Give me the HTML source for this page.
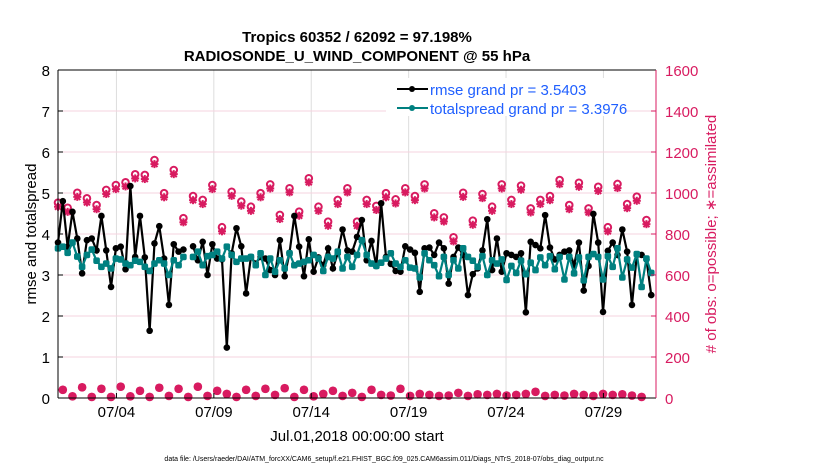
<!DOCTYPE html>
<html><head><meta charset="utf-8">
<style>
body{margin:0;background:#fff;}
svg{display:block;font-family:"Liberation Sans",Arial,sans-serif;}
</style></head>
<body>
<svg id="chart" width="830" height="470">
<g id="grid"></g><g id="marks"></g><g id="axes"></g>
<text x="357" y="42" text-anchor="middle" font-size="15" font-weight="bold">Tropics 60352 / 62092 = 97.198%</text>
<text x="357" y="61" text-anchor="middle" font-size="15" font-weight="bold">RADIOSONDE_U_WIND_COMPONENT @ 55 hPa</text>
<text x="357" y="441" text-anchor="middle" font-size="15">Jul.01,2018 00:00:00 start</text>
<text x="36" y="234" text-anchor="middle" font-size="15" transform="rotate(-90 36 234)">rmse and totalspread</text>
<text x="716" y="234" text-anchor="middle" font-size="15" fill="#d81b60" transform="rotate(-90 716 234)"># of obs: o=possible; ∗=assimilated</text>
<text x="384" y="461" text-anchor="middle" font-size="7">data file: /Users/raeder/DAI/ATM_forcXX/CAM6_setup/f.e21.FHIST_BGC.f09_025.CAM6assim.011/Diags_NTrS_2018-07/obs_diag_output.nc</text>
<g>
<rect x="386" y="78" width="238" height="38" fill="#fff"/>
<line x1="397" y1="89" x2="428" y2="89" stroke="#000" stroke-width="2"/><circle cx="412" cy="89" r="3" fill="#000"/>
<text x="430" y="95" font-size="15" fill="#1f5fff">rmse grand pr = 3.5403</text>
<line x1="397" y1="108" x2="428" y2="108" stroke="#008080" stroke-width="2"/><circle cx="412" cy="108" r="3" fill="#008080"/>
<text x="430" y="114" font-size="15" fill="#1f5fff">totalspread grand pr = 3.3976</text>
</g>
</svg>
<script>
const rmse=[3.79,4.8,3.69,4.54,3.89,3.04,3.85,3.89,3.6,4.44,3.6,2.71,3.65,3.69,3.14,5.17,3.44,4.44,3.43,1.64,3.77,4.19,3.4,2.27,3.75,3.57,3.62,null,3.7,3.36,3.81,3.0,
3.75,3.4,3.38,1.23,3.53,4.14,3.7,2.55,3.44,3.28,3.44,3.4,3.12,3.0,3.85,2.97,3.54,4.44,3.69,2.97,3.87,3.08,3.43,3.24,3.65,3.16,3.53,4.11,3.6,3.57,3.93,
4.34,3.36,3.83,3.22,4.75,3.44,3.27,3.1,3.08,3.7,3.62,3.54,2.59,3.65,3.67,3.49,3.79,3.65,2.79,3.44,3.67,3.49,2.51,3.02,3.16,3.6,4.36,3.12,3.89,3.08,3.53,
3.49,3.44,3.53,2.09,3.81,3.73,3.65,4.46,3.67,3.38,3.49,3.57,3.6,3.24,3.79,2.62,3.22,4.49,3.79,2.1,3.59,3.79,3.49,4.11,3.57,2.27,3.49,3.49,3.38,2.51];
const spread=[3.65,3.69,3.54,3.79,3.45,3.2,3.49,3.62,3.35,3.2,3.28,3.16,3.4,3.38,3.28,3.24,3.35,3.32,3.2,3.1,3.28,3.36,3.28,3.0,3.36,3.24,3.44,null,3.44,3.57,3.24,3.46,
3.49,3.57,3.4,3.69,3.49,3.32,3.4,3.4,3.44,3.24,3.53,3.0,3.4,3.08,3.36,3.16,3.53,3.24,3.28,3.32,3.36,3.49,3.4,3.1,3.44,3.4,3.57,3.16,3.44,3.2,3.49,
3.85,3.49,3.28,3.22,3.3,3.4,3.53,3.28,3.2,3.36,3.18,3.16,2.94,3.53,3.36,3.24,2.97,3.44,3.0,3.36,3.16,3.65,3.44,3.35,3.2,3.46,3.0,3.36,3.28,3.38,2.88,
3.22,3.05,3.35,3.02,3.3,3.12,3.43,3.24,3.46,3.14,3.44,2.89,3.44,3.04,3.43,2.87,3.44,3.51,3.44,2.89,3.46,3.2,3.65,2.94,3.38,3.18,3.51,2.71,3.4,3.05];
const possMain=[953,928,1001,974,941,1015,1039,1052,1091,1088,1161,999,1112,877,985,966,
1039,833,1006,958,933,999,1042,893,1023,909,1072,933,860,966,1023,860,
966,937,999,969,1023,985,1042,901,881,784,1001,865,995,933,1042,
966,1036,925,966,985,1063,941,1050,925,1030,833,1044,946,982,868];
const assimMain=[933,908,981,954,921,995,1019,1032,1071,1068,1141,979,1092,857,965,946,
1019,813,986,938,913,979,1022,873,1003,889,1052,913,840,946,1003,840,
946,917,979,949,1003,965,1022,881,861,764,981,845,975,913,1022,
946,1016,905,946,965,1043,921,1030,905,1010,813,1024,926,962,848];
const possMinor=[40,8,52,5,45,5,55,8,35,5,50,10,45,5,55,10,35,20,5,40,10,45,15,48,5,40,8,20,35,10,
25,5,40,15,12,45,10,20,15,10,12,25,10,18,15,20,12,15,20,30,10,15,12,20,15,10,20,15,18,12,5];
const xTicks=["07/04","07/09","07/14","07/19","07/24","07/29"];
const xTickDays=[3,8,13,18,23,28];
const yTicks=[0,1,2,3,4,5,6,7,8];
const rTicks=[0,200,400,600,800,1000,1200,1400,1600];

const L=58,R=656,T=70,B=398,NS="http://www.w3.org/2000/svg";
const STEP=0.2476;
const xs=d=>L+d*19.48;
const yL=v=>B-(v/8)*(B-T);
const yR=v=>B-(v/1600)*(B-T);
const PINK="#d81b60";
function mk(tag,attrs,parent){const e=document.createElementNS(NS,tag);for(const k in attrs)e.setAttribute(k,attrs[k]);parent.appendChild(e);return e;}
const grid=document.getElementById('grid'),marks=document.getElementById('marks'),axes=document.getElementById('axes');
xTickDays.forEach((d,i)=>{
 const g=mk('line',{x1:xs(d),x2:xs(d),y1:T,y2:B,stroke:'#ddd','stroke-width':1},grid);
 
 
 const t=mk('text',{x:xs(d),y:417,'text-anchor':'middle','font-size':15},axes);t.textContent=xTicks[i];
 
 
 mk('line',{x1:xs(d),x2:xs(d),y1:B,y2:B-5,stroke:'#000'},axes);
});
rTicks.forEach(v=>{
 const g=mk('line',{x1:L,x2:R,y1:yR(v),y2:yR(v),stroke:'#f6d3df','stroke-width':1},grid);
 
 
 const t=mk('text',{x:R+9,y:yR(v)+6,'font-size':15,fill:PINK},axes);t.textContent=v;
 
 
 mk('line',{x1:R,x2:R-5,y1:yR(v),y2:yR(v),stroke:PINK},axes);
});
yTicks.forEach(v=>{
 const t=mk('text',{x:L-8,y:yL(v)+6,'text-anchor':'end','font-size':15},axes);t.textContent=v;
 
 
 mk('line',{x1:L,x2:L+5,y1:yL(v),y2:yL(v),stroke:'#000'},axes);
});
mk('line',{x1:L,x2:L,y1:T,y2:B,stroke:'#000'},axes);
mk('line',{x1:L,x2:R,y1:T,y2:T,stroke:'#000'},axes);
mk('line',{x1:L,x2:R,y1:B,y2:B,stroke:'#000'},axes);
mk('line',{x1:R,x2:R,y1:T,y2:B,stroke:PINK},axes);

function star(x,y,name){
 const g=mk('g',{stroke:PINK,'stroke-width':2},marks);
 
 
 mk('line',{x1:x-4,x2:x+4,y1:y,y2:y},g);mk('line',{x1:x,x2:x,y1:y-4,y2:y+4},g);
 mk('line',{x1:x-3,x2:x+3,y1:y-3,y2:y+3},g);mk('line',{x1:x-3,x2:x+3,y1:y+3,y2:y-3},g);
}
function ring(x,y,name){
 const c=mk('circle',{cx:x,cy:y,r:3.3,fill:'none',stroke:PINK,'stroke-width':2},marks);
 
 
}
possMain.forEach((v,i)=>{const x=xs(i*2*STEP);star(x,yR(assimMain[i]),'assimilated-obs');ring(x,yR(v),'possible-obs');});
possMinor.forEach((v,i)=>{const x=xs((i*2+1)*STEP);star(x,yR(v),'assimilated-obs');ring(x,yR(v),'possible-obs');});

function series(arr,color,name,sq){
 let seg=[];const segs=[];
 arr.forEach((v,i)=>{if(v===null){if(seg.length)segs.push(seg);seg=[];}else seg.push(xs(i*STEP)+','+yL(v));});
 if(seg.length)segs.push(seg);
 segs.forEach(s=>{
  const p=mk('polyline',{points:s.join(' '),fill:'none',stroke:color,'stroke-width':2.2},marks);
  
  
 });
 arr.forEach((v,i)=>{
  if(v===null)return;
  const x=xs(i*STEP),y=yL(v);
  const m=sq?mk('rect',{x:x-3.3,y:y-3.3,width:6.6,height:6.6,rx:2,fill:color},marks):mk('circle',{cx:x,cy:y,r:3.3,fill:color},marks);
  
  
 });
}
series(rmse,'#000','rmse',false);
series(spread,'#008080','totalspread',true);
</script>
</body></html>
